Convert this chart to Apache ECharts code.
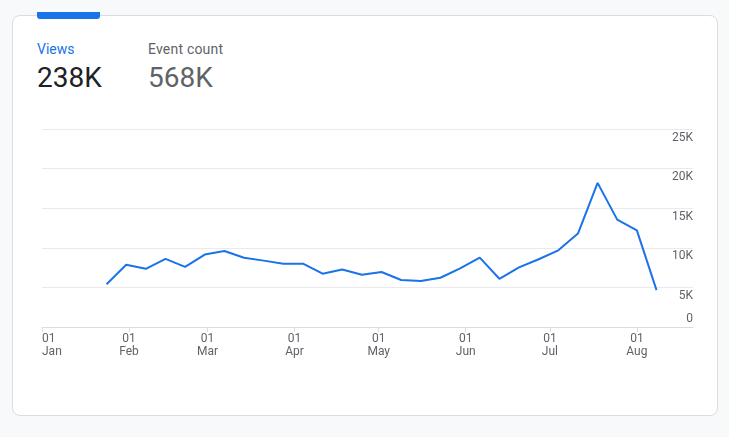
<!DOCTYPE html>
<html>
<head>
<meta charset="utf-8">
<script src="https://cdn.jsdelivr.net/npm/echarts@6/dist/echarts.min.js"></script>
<style>
  html, body { margin: 0; padding: 0; background: #f8f9fa; }
  body { width: 729px; height: 437px; position: relative; overflow: hidden; font-family: Roboto, Arial, sans-serif; }
  .card { position: absolute; left: 12px; top: 15px; width: 704px; height: 399px; background: #fff; border: 1px solid #dadce0; border-radius: 8px; }
  .tab { position: absolute; left: 37px; top: 12px; width: 63px; height: 7px; background: #1a73e8; border-radius: 0 0 3px 3px; }
  .lbl { position: absolute; font-size: 14px; line-height: 14px; white-space: nowrap; }
  .num { position: absolute; font-size: 28px; line-height: 28px; white-space: nowrap; }
  #main { position: absolute; left: 0; top: 0; width: 729px; height: 437px; }
</style>
</head>
<body>
<div class="card"></div>
<div class="tab"></div>
<div class="lbl" style="left:37px;top:42px;color:#1a73e8">Views</div>
<div class="num" style="left:37px;top:64px;color:#202124">238K</div>
<div class="lbl" style="left:148px;top:42px;color:#5f6368;letter-spacing:0.2px">Event count</div>
<div class="num" style="left:148px;top:64px;color:#5f6368">568K</div>
<div id="main"></div>
<script>
// weekly views
var dates = ['2023-01-24', '2023-01-31', '2023-02-07', '2023-02-14', '2023-02-21', '2023-02-28',
  '2023-03-07', '2023-03-14', '2023-03-21', '2023-03-28', '2023-04-04', '2023-04-11',
  '2023-04-18', '2023-04-25', '2023-05-02', '2023-05-09', '2023-05-16', '2023-05-23',
  '2023-05-30', '2023-06-06', '2023-06-13', '2023-06-20', '2023-06-27', '2023-07-04',
  '2023-07-11', '2023-07-18', '2023-07-25', '2023-08-01', '2023-08-08'];
var views = [5400, 7850, 7350, 8600, 7600, 9150, 9600, 8750, 8380, 8000, 8000, 6730,
  7250, 6600, 6940, 5930, 5800, 6220, 7410, 8760, 6090, 7520, 8550, 9680,
  11800, 18200, 13560, 12200, 4650];

// x axis ticks (month starts)
var monthTicks = ['2023-01-01', '2023-02-01', '2023-03-01', '2023-04-01', '2023-05-01',
  '2023-06-01', '2023-07-01', '2023-08-01'];
var monthLabels = ['Jan', 'Feb', 'Mar', 'Apr', 'May', 'Jun', 'Jul', 'Aug'];
var yTickLabels = ['0', '5K', '10K', '15K', '20K', '25K'];

function ts(d) { return +echarts.time.parse(d); }
var tickValues = monthTicks.map(ts);
var seriesData = dates.map(function (d, i) { return [ts(d), views[i]]; });

var myChart = echarts.init(document.getElementById('main'));
var option = {
  animation: false,
  grid: { left: 42, right: 36, top: 129, bottom: 110 },
  xAxis: {
    type: 'value',
    min: ts('2023-01-01'),
    max: ts('2023-08-21'),
    axisLine: { lineStyle: { color: '#dadce0', width: 1 } },
    axisTick: { show: true, length: 5, lineStyle: { color: '#dadce0' }, customValues: tickValues },
    splitLine: { show: false },
    axisLabel: {
      customValues: tickValues,
      alignMinLabel: 'left',
      margin: 5,
      color: '#5f6368',
      fontSize: 12,
      fontFamily: 'Roboto',
      lineHeight: 13,
      formatter: function (v) {
        var i = tickValues.indexOf(+v);
        return '01\n' + (i >= 0 ? monthLabels[i] : '');
      }
    }
  },
  yAxis: {
    type: 'value',
    position: 'right',
    min: 0,
    max: 25000,
    interval: 5000,
    axisLine: { show: false },
    axisTick: { show: false },
    splitLine: { lineStyle: { color: '#e8eaed', width: 1 } },
    axisLabel: {
      inside: true,
      margin: 0,
      color: '#5f6368',
      fontSize: 12,
      fontFamily: 'Roboto',
      formatter: function (v) {
        var s = yTickLabels[Math.round(v / 5000)];
        return v === 0 ? '{z|' + s + '}' : '{a|' + s + '}';
      },
      rich: {
        a: { color: '#5f6368', fontSize: 12, fontFamily: 'Roboto', padding: [17, 0, 0, 0] },
        z: { color: '#5f6368', fontSize: 12, fontFamily: 'Roboto', padding: [0, 0, 17, 0] }
      }
    }
  },
  series: [{
    name: 'Views',
    type: 'line',
    data: seriesData,
    showSymbol: false,
    symbol: 'none',
    lineStyle: { color: '#1a73e8', width: 2 },
    itemStyle: { color: '#1a73e8' }
  }]
};
myChart.setOption(option);
</script>
</body>
</html>
